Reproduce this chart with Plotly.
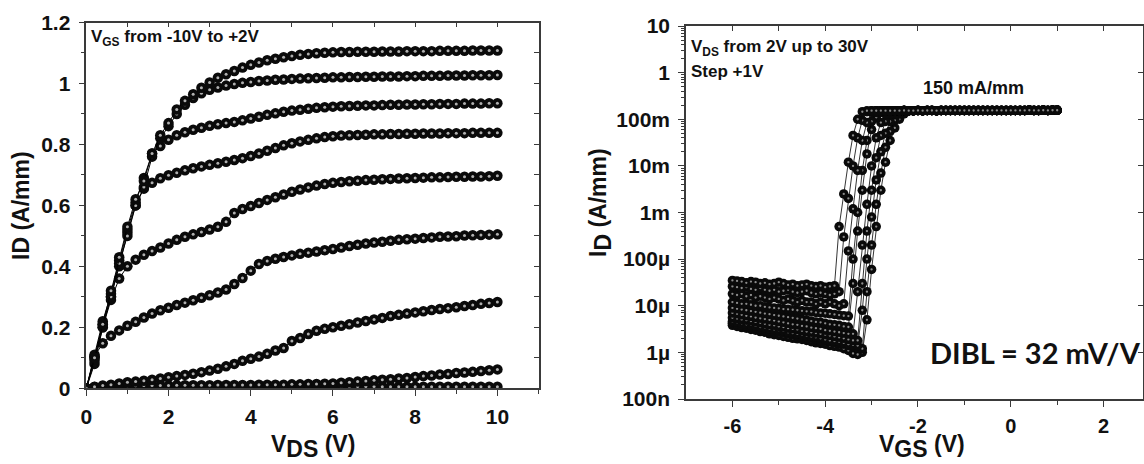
import plotly.graph_objects as go

W, H = 1144, 464
FONT = "Liberation Sans, Arial, sans-serif"
AXCOL = "#3a3a3a"

# ---------------- Left panel: ID-VDS output curves ----------------
VDS = [0.0, 0.2, 0.4, 0.6, 0.8, 1.0, 1.2, 1.4, 1.6, 1.8,
       2.0, 2.2, 2.4, 2.6, 2.8, 3.0, 3.2, 3.4, 3.6, 3.8,
       4.0, 4.2, 4.4, 4.6, 4.8, 5.0, 5.2, 5.4, 5.6, 5.8, 6.0,
       6.2, 6.4, 6.6, 6.8, 7.0, 7.2, 7.4, 7.6, 7.8, 8.0,
       8.2, 8.4, 8.6, 8.8, 9.0, 9.2, 9.4, 9.6, 9.8, 10.0]

ID_1 = [0.0, 0.10, 0.21, 0.32, 0.43, 0.53, 0.62, 0.68, 0.77, 0.83, 0.87, 0.915, 0.943,
        0.965, 0.986, 1.003, 1.019, 1.030, 1.041, 1.052, 1.061, 1.069, 1.076, 1.081, 1.086,
        1.090, 1.094, 1.097, 1.099, 1.101, 1.102,
        1.103, 1.103, 1.104, 1.104, 1.104, 1.105, 1.105, 1.105, 1.106, 1.106,
        1.106, 1.106, 1.107, 1.107, 1.107, 1.107, 1.108, 1.108, 1.108, 1.108]
ID_2 = [0.0, 0.09, 0.20, 0.30, 0.41, 0.50, 0.60, 0.66, 0.76, 0.82, 0.86, 0.90, 0.93,
        0.952, 0.968, 0.979, 0.987, 0.993, 0.998, 1.002, 1.005, 1.008, 1.010, 1.012, 1.013,
        1.015, 1.016, 1.017, 1.018, 1.019, 1.020,
        1.020, 1.021, 1.021, 1.022, 1.022, 1.023, 1.023, 1.023, 1.024, 1.024,
        1.025, 1.025, 1.025, 1.026, 1.026, 1.026, 1.027, 1.027, 1.027, 1.028]
ID_3 = [0.0, 0.11, 0.22, 0.31, 0.42, 0.52, 0.61, 0.69, 0.77,
        0.795, 0.815, 0.830, 0.840, 0.848, 0.855, 0.861, 0.866, 0.870, 0.874, 0.879, 0.885,
        0.891, 0.897, 0.902, 0.907, 0.911, 0.914, 0.917, 0.920, 0.922, 0.924,
        0.925, 0.926, 0.927, 0.928, 0.928, 0.929, 0.930, 0.930, 0.931, 0.931,
        0.932, 0.932, 0.933, 0.933, 0.933, 0.934, 0.934, 0.934, 0.935, 0.935]
ID_4 = [0.0, 0.10, 0.21, 0.30, 0.40, 0.51, 0.60,
        0.655, 0.674, 0.689, 0.699, 0.707, 0.715, 0.722, 0.728, 0.733, 0.738, 0.743, 0.749, 0.755,
        0.762, 0.770, 0.779, 0.788, 0.797, 0.804, 0.810, 0.815, 0.820, 0.824, 0.827,
        0.829, 0.830, 0.831, 0.832, 0.833, 0.833, 0.834, 0.834, 0.835, 0.835,
        0.836, 0.836, 0.836, 0.837, 0.837, 0.837, 0.838, 0.838, 0.838, 0.838]
ID_5 = [0.0, 0.08, 0.20, 0.29, 0.36,
        0.400, 0.422, 0.438, 0.450, 0.462, 0.475, 0.487, 0.497, 0.505, 0.513, 0.521, 0.530, 0.546, 0.575, 0.588,
        0.598, 0.608, 0.618, 0.627, 0.636, 0.645, 0.652, 0.659, 0.665, 0.670, 0.674,
        0.677, 0.679, 0.681, 0.683, 0.684, 0.686, 0.687, 0.688, 0.689, 0.690,
        0.691, 0.692, 0.692, 0.693, 0.694, 0.694, 0.695, 0.695, 0.696, 0.697]
ID_6 = [0.0, 0.105, 0.148, 0.172, 0.190, 0.205, 0.218, 0.232, 0.245, 0.256,
        0.264, 0.273, 0.281, 0.289, 0.297, 0.305, 0.314, 0.324, 0.342, 0.362,
        0.386, 0.408, 0.418, 0.425, 0.431, 0.436, 0.441, 0.445, 0.449, 0.453, 0.457,
        0.462, 0.467, 0.471, 0.475, 0.478, 0.481, 0.484, 0.487, 0.489, 0.491,
        0.493, 0.495, 0.497, 0.498, 0.499, 0.501, 0.502, 0.503, 0.504, 0.505]
ID_7 = [0.0, 0.005, 0.009, 0.012, 0.016, 0.020, 0.022, 0.025, 0.028, 0.032,
        0.036, 0.040, 0.044, 0.048, 0.053, 0.058, 0.064, 0.072, 0.080, 0.090,
        0.097, 0.104, 0.113, 0.124, 0.132, 0.155, 0.165, 0.178, 0.189, 0.195, 0.200,
        0.205, 0.210, 0.216, 0.221, 0.226, 0.231, 0.237, 0.241, 0.245, 0.249,
        0.253, 0.257, 0.260, 0.263, 0.266, 0.270, 0.273, 0.277, 0.280, 0.283]
ID_8 = [0.0, 0.004, 0.006, 0.007, 0.008, 0.008, 0.008, 0.009, 0.009, 0.009,
        0.009, 0.010, 0.010, 0.010, 0.010, 0.010, 0.011, 0.011, 0.011, 0.011,
        0.011, 0.012, 0.012, 0.012, 0.012, 0.013, 0.013, 0.014, 0.014, 0.015, 0.016,
        0.018, 0.020, 0.022, 0.024, 0.026, 0.028, 0.030, 0.032, 0.034, 0.037,
        0.040, 0.042, 0.045, 0.047, 0.050, 0.052, 0.054, 0.057, 0.059, 0.062]
ID_9 = [0.0, 0.003, 0.004, 0.005, 0.005, 0.005, 0.006, 0.006, 0.006, 0.006,
        0.006, 0.006, 0.006, 0.006, 0.006, 0.006, 0.006, 0.006, 0.006, 0.006,
        0.006, 0.006, 0.006, 0.006, 0.006, 0.006, 0.006, 0.006, 0.006, 0.006, 0.006,
        0.006, 0.006, 0.006, 0.006, 0.006, 0.005, 0.005, 0.005, 0.005, 0.005,
        0.005, 0.005, 0.005, 0.005, 0.005, 0.005, 0.005, 0.005, 0.005, 0.005]
OUTPUT_CURVES = [ID_9, ID_8, ID_7, ID_6, ID_5, ID_4, ID_3, ID_2, ID_1]

# ---------------- Right panel: ID-VGS transfer curves (log) ----------------
VGS = [-6.0, -5.9, -5.8, -5.7, -5.6, -5.5, -5.4, -5.3, -5.2, -5.1,
       -5.0, -4.9, -4.8, -4.7, -4.6, -4.5, -4.4, -4.3, -4.2, -4.1,
       -4.0, -3.9, -3.8, -3.7, -3.6, -3.5, -3.4, -3.3, -3.2, -3.1,
       -3.0, -2.9, -2.8, -2.7, -2.6, -2.5, -2.4, -2.3, -2.2, -2.1,
       -2.0, -1.9, -1.8, -1.7, -1.6, -1.5, -1.4, -1.3, -1.2, -1.1,
       -1.0, -0.9, -0.8, -0.7, -0.6, -0.5, -0.4, -0.3, -0.2, -0.1,
       0.0, 0.1, 0.2, 0.3, 0.4, 0.5, 0.6, 0.7, 0.8, 0.9, 1.0]

# off-state leakage, uA/mm (from VGS=-6 V upward)
OFF_1 = [35, 34, 33, 31, 33, 32, 30, 31, 29, 30, 32, 30, 28, 29, 27, 28, 29, 27, 26, 27, 25, 26, 27]
OFF_2 = [26, 25, 24, 25, 23, 22, 24, 22, 21, 22, 20, 21, 22, 20, 19, 20, 21, 19, 18, 19, 18, 17, 18, 20]
OFF_3 = [18, 17, 18, 16, 17, 15, 16, 15, 14, 15, 14, 13, 14, 13, 12, 13, 12, 12, 11, 12, 11, 12, 11, 10, 11]
OFF_4 = [12, 11.5, 11, 11, 10.5, 10, 10, 9.5, 9.2, 9, 8.8, 8.5, 8.4, 8.2, 8, 7.8, 7.6, 7.5, 7.2, 7,
         6.9, 6.7, 6.5, 6.3, 6.1, 6]
OFF_5 = [9, 8.6, 8.3, 8, 7.7, 7.4, 7.1, 6.8, 6.6, 6.3, 6.1, 5.9, 5.7, 5.5, 5.3, 5.1, 4.9, 4.7, 4.5, 4.4,
         4.2, 4.0, 3.9, 3.8, 3.6, 3.5]
OFF_6 = [7, 6.7, 6.4, 6.1, 5.9, 5.6, 5.4, 5.2, 5.0, 4.8, 4.6, 4.4, 4.2, 4.0, 3.9, 3.7, 3.6, 3.4, 3.3, 3.2,
         3.0, 2.9, 2.8, 2.7, 2.6, 2.5, 2.5]
OFF_7 = [5.5, 5.3, 5.1, 4.9, 4.7, 4.5, 4.3, 4.1, 3.9, 3.8, 3.6, 3.5, 3.3, 3.2, 3.1, 2.9, 2.8, 2.7, 2.6, 2.5,
         2.4, 2.3, 2.2, 2.1, 2.0, 1.9, 1.8, 1.8]
OFF_8 = [4.6, 4.4, 4.2, 4.0, 3.9, 3.7, 3.5, 3.4, 3.2, 3.1, 3.0, 2.9, 2.7, 2.6, 2.5, 2.4, 2.3, 2.2, 2.1, 2.0,
         1.9, 1.8, 1.75, 1.7, 1.6, 1.5, 1.45, 1.4]
OFF_9 = [4.2, 4.0, 3.8, 3.7, 3.5, 3.4, 3.2, 3.1, 2.9, 2.8, 2.7, 2.6, 2.5, 2.4, 2.3, 2.2, 2.1, 2.0, 1.9, 1.8,
         1.75, 1.7, 1.6, 1.55, 1.5, 1.4, 1.3, 1.25, 1.2]
OFF_10 = [3.8, 3.6, 3.4, 3.3, 3.1, 3.0, 2.8, 2.7, 2.5, 2.4, 2.3, 2.2, 2.1, 2.0, 1.95, 1.9, 1.8, 1.7, 1.6, 1.55,
          1.5, 1.4, 1.35, 1.3, 1.2, 1.1, 0.95, 0.9, 1.0]

# turn-on part, mA/mm
RISE_1 = [0.5, 2.5, 12, 45, 100, 145]
RISE_2 = [0.3, 2, 10, 40, 95, 145]
RISE_3 = [0.15, 1.2, 8, 35, 85, 140]
RISE_4 = [0.1, 1, 8, 35, 90, 140]
RISE_5 = [0.03, 0.4, 3, 18, 60, 110, 140]
RISE_6 = [0.02, 0.2, 1.5, 10, 40, 85, 130]
RISE_7 = [0.03, 0.4, 3, 15, 45, 90, 130]
RISE_8 = [0.008, 0.1, 0.8, 5, 20, 50, 90, 130]
RISE_9 = [0.02, 0.2, 1.5, 7, 25, 55, 95, 130]
RISE_10 = [0.005, 0.06, 0.5, 3, 12, 35, 65, 100, 130]

# compliance plateau, mA/mm, for VGS = -3.1 ... +1.0
PLATEAU = [152, 153, 152, 153, 153, 152, 153, 153, 154, 153,
           153, 154, 153, 154, 154, 153, 154, 154, 154, 155,
           154, 154, 155, 154, 155, 155, 154, 155, 155, 155,
           154, 155, 155, 155, 155, 156, 155, 155, 156, 155,
           156, 156]
PLATEAU_START = 29  # index of VGS = -3.1 in VGS

TRANSFER = [(OFF_10, RISE_10), (OFF_9, RISE_9), (OFF_8, RISE_8), (OFF_7, RISE_7),
            (OFF_6, RISE_6), (OFF_5, RISE_5), (OFF_4, RISE_4), (OFF_3, RISE_3),
            (OFF_2, RISE_2), (OFF_1, RISE_1)]

fig = go.Figure()

DARK = "#0a0a0a"
HILITE_L = "#b0b0b0"
HILITE_R = "#8c8c8c"

for curve in OUTPUT_CURVES:
    fig.add_trace(go.Scatter(x=VDS, y=curve, mode="lines+markers",
                             line=dict(color="black", width=1),
                             marker=dict(size=10.5, color=DARK),
                             xaxis="x", yaxis="y", showlegend=False, hoverinfo="skip"))
    fig.add_trace(go.Scatter(x=VDS, y=curve, mode="markers",
                             marker=dict(size=3, color=HILITE_L),
                             xaxis="x", yaxis="y", showlegend=False, hoverinfo="skip"))

for off, rise in TRANSFER:
    start = len(off) + len(rise)
    y = [v * 1e-6 for v in off] + [v * 1e-3 for v in rise] + \
        [v * 1e-3 for v in PLATEAU[start - PLATEAU_START:]]
    fig.add_trace(go.Scatter(x=VGS, y=y, mode="lines+markers",
                             line=dict(color="black", width=0.8),
                             marker=dict(size=9.5, color=DARK),
                             xaxis="x2", yaxis="y2", showlegend=False, hoverinfo="skip"))
    fig.add_trace(go.Scatter(x=VGS, y=y, mode="markers",
                             marker=dict(size=2.3, color=HILITE_R),
                             xaxis="x2", yaxis="y2", showlegend=False, hoverinfo="skip"))

# empty traces so the mirrored (inside-tick) frame axes get drawn
fig.add_trace(go.Scatter(x=[None], y=[None], xaxis="x3", yaxis="y3", showlegend=False, hoverinfo="skip"))
fig.add_trace(go.Scatter(x=[None], y=[None], xaxis="x4", yaxis="y4", showlegend=False, hoverinfo="skip"))


def px_x(p):
    return p / W


def px_y(p):
    return 1 - p / H


TICKFONT = dict(family=FONT, size=21, color="#111111", weight="bold")
base = dict(showline=True, linecolor=AXCOL, linewidth=1.5, showgrid=False, zeroline=False,
            automargin=False,
            ticks="outside", ticklen=6, tickwidth=1.3, tickcolor=AXCOL, tickfont=TICKFONT)
mirror = dict(showline=True, linecolor=AXCOL, linewidth=1.5, showgrid=False, zeroline=False,
              automargin=False,
              ticks="inside", ticklen=5, tickwidth=1.2, tickcolor=AXCOL, showticklabels=False)

L_DOM_X = [px_x(86.3), px_x(538.5)]
L_DOM_Y = [px_y(388.3), px_y(22.5)]
R_DOM_X = [px_x(686), px_x(1143)]
R_DOM_Y = [px_y(399), px_y(26)]

fig.update_layout(
    width=W, height=H, margin=dict(l=0, r=0, t=0, b=0, pad=0, autoexpand=False),
    paper_bgcolor="white", plot_bgcolor="white",
    xaxis=dict(base, domain=L_DOM_X, range=[0, 11], tick0=0, dtick=2, anchor="y",
               ticklabelstandoff=3,
               minor=dict(dtick=1, ticks="outside", ticklen=4, tickcolor=AXCOL, tickwidth=1.2)),
    yaxis=dict(base, domain=L_DOM_Y, range=[0, 1.2], tick0=0, dtick=0.2, anchor="x",
               ticklabelstandoff=4,
               minor=dict(dtick=0.1, ticks="outside", ticklen=4, tickcolor=AXCOL, tickwidth=1.2)),
    xaxis3=dict(mirror, overlaying="x", side="top", anchor="y", range=[0, 11], tick0=0, dtick=1),
    yaxis3=dict(mirror, overlaying="y", side="right", anchor="x", range=[0, 1.2], tick0=0, dtick=0.1),
    xaxis2=dict(base, domain=R_DOM_X, range=[-7, 2.85], anchor="y2",
                tickmode="array", tickvals=[-6, -4, -2, 0, 2], ticktext=["-6", "-4", "-2", "0", "2"],
                tickfont=dict(TICKFONT, size=20), ticklabelstandoff=2,
                minor=dict(tickvals=[-5, -3, -1, 1], ticks="outside", ticklen=4,
                           tickcolor=AXCOL, tickwidth=1.2)),
    yaxis2=dict(base, domain=R_DOM_Y, type="log", range=[-7, 1], dtick=1, tickformat="~s",
                anchor="x2", tickfont=dict(TICKFONT, size=21), ticklabelstandoff=4,
                minor=dict(dtick="D1", ticks="outside", ticklen=3, tickcolor=AXCOL, tickwidth=1)),
    xaxis4=dict(mirror, overlaying="x2", side="top", anchor="y2", range=[-7, 2.85], tick0=0, dtick=1),
    yaxis4=dict(mirror, overlaying="y2", side="right", anchor="x2", type="log", range=[-7, 1], dtick=1),
)

ANN_FONT = dict(family=FONT, color="#111111", weight="bold")
annotations = [
    dict(text="V<sub>GS</sub> from -10V to +2V", x=px_x(89), y=px_y(38), xanchor="left",
         yanchor="middle", font=dict(ANN_FONT, size=17)),
    dict(text="V<sub>DS</sub> from 2V up to 30V", x=px_x(689), y=px_y(48), xanchor="left",
         yanchor="middle", font=dict(ANN_FONT, size=17)),
    dict(text="Step +1V", x=px_x(689), y=px_y(72), xanchor="left", yanchor="middle",
         font=dict(ANN_FONT, size=17)),
    dict(text="150 mA/mm", x=px_x(973), y=px_y(88), xanchor="center", yanchor="middle",
         font=dict(ANN_FONT, size=18)),
    dict(text="DIBL = 32 mV/V", x=px_x(1143), y=px_y(352), xanchor="right", yanchor="middle",
         font=dict(family="Lato, Open Sans, sans-serif", size=29, color="#111111", weight="bold")),
    dict(text="ID (A/mm)", x=px_x(21), y=px_y(206), textangle=-90, xanchor="center",
         yanchor="middle", font=dict(ANN_FONT, size=23)),
    dict(text='V<sub><span style="font-size:23px">DS</span></sub> (V)', x=px_x(313), y=px_y(446),
         xanchor="center", yanchor="middle", font=dict(ANN_FONT, size=23)),
    dict(text='V<sub><span style="font-size:23px">GS</span></sub> (V)', x=px_x(922), y=px_y(446),
         xanchor="center", yanchor="middle", font=dict(ANN_FONT, size=23)),
    dict(text='I<sub><span style="font-size:23px">D</span></sub> (A/mm)', x=px_x(600), y=px_y(203),
         textangle=-90, xanchor="center", yanchor="middle", font=dict(ANN_FONT, size=23)),
]
for a in annotations:
    a.update(xref="paper", yref="paper", showarrow=False)
fig.update_layout(annotations=annotations)

PIN_PAGE = ("var gd=document.getElementById('{plot_id}');"
            "gd.style.position='fixed';gd.style.left='0px';gd.style.top='0px';"
            "document.body.style.margin='0';document.body.style.overflow='hidden';"
            "document.documentElement.style.overflow='hidden';")

fig.write_html("out.html", config={"displayModeBar": False}, post_script=PIN_PAGE)
